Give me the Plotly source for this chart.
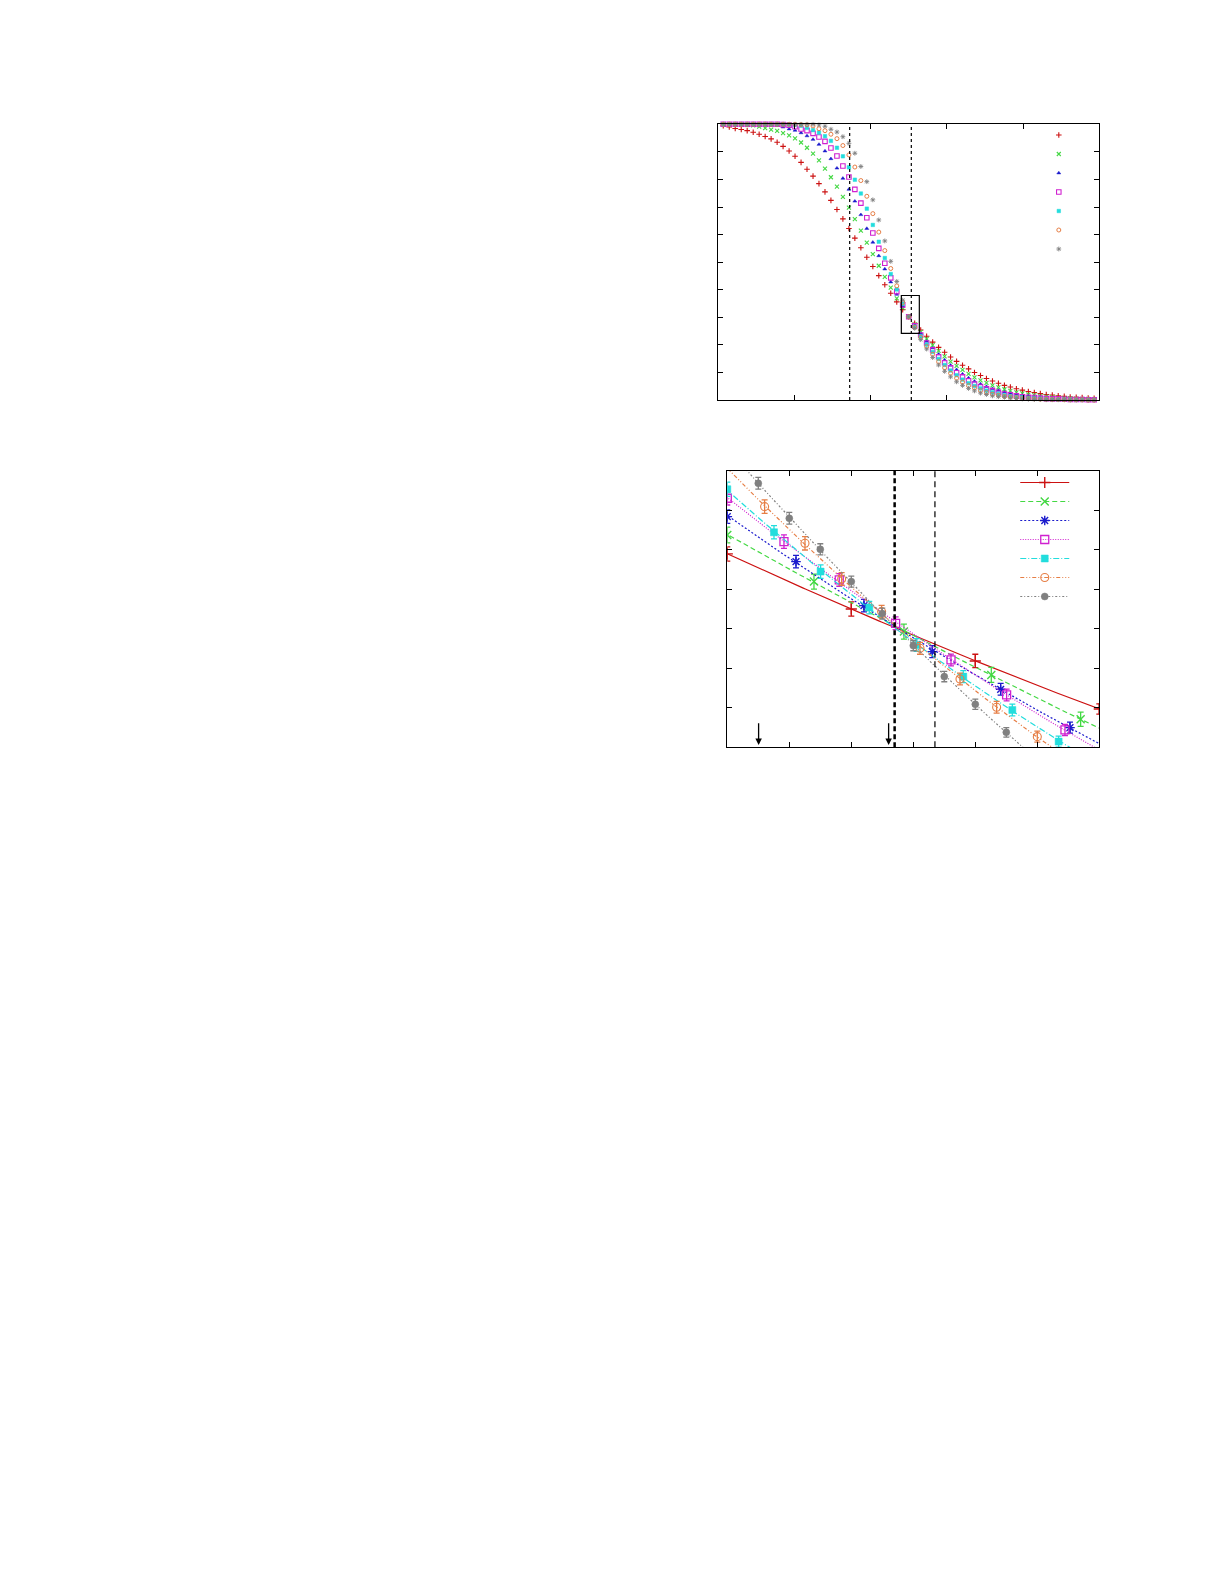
import numpy as np
import plotly.graph_objects as go

# ---------------- top panel data (x grid and seven curves) ----------------
T = [0.065, 0.144, 0.222, 0.301, 0.379, 0.458, 0.536, 0.615, 0.693, 0.772, 0.850,
     0.929, 1.007, 1.086, 1.164, 1.243, 1.321, 1.400, 1.478, 1.557, 1.635,
     1.714, 1.792, 1.871, 1.949, 2.028, 2.106, 2.185, 2.263, 2.342, 2.420,
     2.499, 2.577, 2.656, 2.734, 2.813, 2.891, 2.970, 3.048, 3.127, 3.205,
     3.284, 3.362, 3.441, 3.519, 3.598, 3.676, 3.755, 3.833, 3.912, 3.990,
     4.069, 4.147, 4.226, 4.304, 4.383, 4.461, 4.540, 4.618, 4.697, 4.775,
     4.854, 4.932]

top_red = [0.995, 0.990, 0.985, 0.981, 0.977, 0.971, 0.964, 0.956, 0.947, 0.935, 0.920,
           0.903, 0.884, 0.862, 0.837, 0.812, 0.785, 0.755, 0.724, 0.691, 0.657,
           0.622, 0.587, 0.552, 0.518, 0.484, 0.451, 0.418, 0.387, 0.356, 0.328,
           0.302, 0.278, 0.254, 0.231, 0.210, 0.191, 0.173, 0.156, 0.140, 0.126,
           0.113, 0.100, 0.089, 0.078, 0.069, 0.061, 0.053, 0.047, 0.041, 0.036,
           0.031, 0.027, 0.023, 0.020, 0.018, 0.015, 0.013, 0.011, 0.010, 0.009,
           0.007, 0.006]
top_green = [1.000, 1.000, 1.000, 0.999, 0.998, 0.996, 0.992, 0.986, 0.981, 0.976, 0.968,
             0.960, 0.949, 0.934, 0.915, 0.894, 0.869, 0.839, 0.808, 0.774, 0.737,
             0.698, 0.656, 0.614, 0.571, 0.529, 0.487, 0.447, 0.408, 0.369, 0.334,
             0.302, 0.274, 0.247, 0.222, 0.199, 0.178, 0.158, 0.139, 0.124, 0.109,
             0.095, 0.082, 0.071, 0.062, 0.053, 0.046, 0.039, 0.033, 0.028, 0.024,
             0.020, 0.018, 0.014, 0.012, 0.010, 0.009, 0.007, 0.006, 0.005, 0.004,
             0.004, 0.003]
top_blue = [1.000, 1.000, 1.000, 1.000, 1.000, 1.000, 1.000, 0.999, 0.998, 0.996, 0.990,
            0.983, 0.978, 0.969, 0.958, 0.945, 0.927, 0.903, 0.875, 0.841, 0.804,
            0.764, 0.721, 0.672, 0.622, 0.572, 0.523, 0.475, 0.428, 0.383, 0.340,
            0.302, 0.271, 0.241, 0.213, 0.189, 0.166, 0.145, 0.126, 0.110, 0.094,
            0.080, 0.068, 0.058, 0.049, 0.041, 0.035, 0.029, 0.024, 0.020, 0.017,
            0.014, 0.011, 0.010, 0.008, 0.006, 0.005, 0.004, 0.004, 0.003, 0.003,
            0.002, 0.002]
top_magenta = [1.000, 1.000, 1.000, 1.000, 1.000, 1.000, 1.000, 1.000, 1.000, 1.000, 0.999,
               0.997, 0.991, 0.983, 0.977, 0.967, 0.954, 0.938, 0.914, 0.885, 0.849,
               0.809, 0.764, 0.714, 0.661, 0.606, 0.550, 0.496, 0.443, 0.393, 0.345,
               0.302, 0.269, 0.236, 0.207, 0.182, 0.157, 0.135, 0.117, 0.099, 0.084,
               0.070, 0.058, 0.049, 0.041, 0.034, 0.028, 0.022, 0.019, 0.015, 0.012,
               0.010, 0.009, 0.007, 0.005, 0.004, 0.004, 0.003, 0.002, 0.002, 0.002,
               0.001, 0.001]
top_cyan = [1.000, 1.000, 1.000, 1.000, 1.000, 1.000, 1.000, 1.000, 1.000, 1.000, 1.000,
            0.999, 0.998, 0.995, 0.987, 0.979, 0.970, 0.957, 0.940, 0.915, 0.884,
            0.844, 0.799, 0.749, 0.694, 0.635, 0.574, 0.515, 0.457, 0.401, 0.349,
            0.302, 0.266, 0.231, 0.201, 0.174, 0.149, 0.127, 0.107, 0.090, 0.074,
            0.061, 0.051, 0.042, 0.034, 0.028, 0.022, 0.018, 0.014, 0.011, 0.010,
            0.007, 0.006, 0.005, 0.004, 0.003, 0.002, 0.002, 0.002, 0.001, 0.001,
            0.001, 0.001]
top_orange = [1.000, 1.000, 1.000, 1.000, 1.000, 1.000, 1.000, 1.000, 1.000, 1.000, 1.000,
              1.000, 1.000, 0.999, 0.998, 0.994, 0.984, 0.977, 0.964, 0.948, 0.923,
              0.889, 0.845, 0.796, 0.739, 0.676, 0.609, 0.542, 0.477, 0.414, 0.354,
              0.302, 0.264, 0.227, 0.194, 0.166, 0.139, 0.117, 0.097, 0.079, 0.065,
              0.052, 0.044, 0.034, 0.027, 0.021, 0.017, 0.013, 0.011, 0.009, 0.006,
              0.005, 0.004, 0.003, 0.003, 0.002, 0.002, 0.001, 0.001, 0.001, 0.001,
              0.000, 0.000]
top_gray = [1.000, 1.000, 1.000, 1.000, 1.000, 1.000, 1.000, 1.000, 1.000, 1.000, 1.000,
            1.000, 1.000, 1.000, 1.000, 1.000, 0.998, 0.993, 0.982, 0.972, 0.955,
            0.931, 0.895, 0.847, 0.792, 0.726, 0.653, 0.577, 0.503, 0.430, 0.362,
            0.302, 0.260, 0.219, 0.185, 0.154, 0.127, 0.104, 0.084, 0.066, 0.053,
            0.042, 0.033, 0.025, 0.020, 0.015, 0.012, 0.010, 0.007, 0.005, 0.004,
            0.003, 0.002, 0.002, 0.001, 0.001, 0.001, 0.001, 0.000, 0.000, 0.000,
            0.000, 0.000]

top_vlines = [1.724, 2.533]
zoom_box = [2.402, 2.638, 0.242, 0.379]   # x0, x1, y0, y1
top_xticks = [1, 2, 3, 4]
top_yticks = [0.1, 0.2, 0.3, 0.4, 0.5, 0.6, 0.7, 0.8, 0.9]

# ---------------- bottom panel data ----------------
bx_red = [0.0, 2.0, 4.0, 6.0]
by_red = [4.899, 3.505, 2.188, 0.971]
be_red = [0.18, 0.18, 0.17, 0.13]

bx_green = [0.0, 1.398, 2.849, 4.258, 5.699]
by_green = [5.380, 4.198, 2.931, 1.833, 0.709]
be_green = [0.20, 0.19, 0.19, 0.19, 0.18]

bx_blue = [0.0, 1.108, 2.204, 3.306, 4.409, 5.527]
by_blue = [5.845, 4.704, 3.590, 2.424, 1.470, 0.498]
be_blue = [0.17, 0.16, 0.16, 0.15, 0.15, 0.14]

bx_magenta = [0.0, 0.914, 1.806, 2.715, 3.608, 4.505, 5.446]
by_magenta = [6.309, 5.211, 4.240, 3.142, 2.213, 1.326, 0.439]
be_magenta = [0.17, 0.17, 0.16, 0.16, 0.15, 0.15, 0.14]

bx_cyan = [0.0, 0.753, 1.505, 2.290, 3.054, 3.806, 4.597, 5.344]
by_cyan = [6.537, 5.448, 4.451, 3.539, 2.593, 1.791, 0.946, 0.144]
be_cyan = [0.18, 0.17, 0.17, 0.16, 0.16, 0.15, 0.15, 0.14]

bx_orange = [0.602, 1.253, 1.844, 2.489, 3.108, 3.753, 4.344, 5.0]
by_orange = [6.098, 5.169, 4.265, 3.438, 2.508, 1.731, 1.014, 0.270]
be_orange = [0.17, 0.17, 0.16, 0.16, 0.15, 0.15, 0.15, 0.14]

bx_gray = [0.5, 1.0, 1.5, 2.0, 2.5, 3.0, 3.5, 4.0, 4.5]
by_gray = [6.689, 5.802, 5.017, 4.198, 3.387, 2.576, 1.791, 1.090, 0.380]
be_gray = [0.15, 0.15, 0.14, 0.14, 0.14, 0.13, 0.13, 0.13, 0.12]

bottom_vline_thick = 2.699
bottom_vline_thin = 3.349
arrow_x = [0.505, 2.602]
arrow_tail_y = 0.65
arrow_tip_y = 0.06
bot_xticks = [1, 2, 3, 4, 5]
bot_yticks = [1, 2, 3, 4, 5, 6]

# ---------------- styles ----------------
COLORS = ['#cc1111', '#44d844', '#1a1acc', '#d020d0', '#22dddd', '#e67e45', '#808080']
TOP_SYMBOLS = [('cross-thin-open', 4, 1.1), ('x-thin-open', 4, 1.1), ('triangle-up', 3.5, 0.5),
               ('square-open', 4.5, 1.1), ('square', 3.5, 0.5), ('circle-open', 4, 1.0),
               ('asterisk-open', 4, 0.9)]
BOT_SYMBOLS = [('cross-thin-open', 8, 1.4), ('x-thin-open', 8, 1.4), ('asterisk-open', 8, 1.4),
               ('square-open', 8, 1.3), ('square', 7, 0.5), ('circle-open', 8, 1.1),
               ('circle', 7, 0.5)]
DASHES = ['solid', '5px,3px', '2px,2px', '1px,1.5px', '6px,2px,1px,2px', '4px,2px,1px,2px,1px,2px', '2px,2px,1px,2px']

fig = go.Figure()

top_series = [top_red, top_green, top_blue, top_magenta, top_cyan, top_orange, top_gray]
for i, ys in enumerate(top_series):
    sym, sz, lw = TOP_SYMBOLS[i]
    fig.add_trace(go.Scatter(
        x=T, y=ys, mode='markers', name='', xaxis='x', yaxis='y', legend='legend',
        cliponaxis=False,
        marker=dict(symbol=sym, size=sz, color=COLORS[i], line=dict(color=COLORS[i], width=lw)),
        hoverinfo='skip'))

bot_series = [(bx_red, by_red, be_red), (bx_green, by_green, be_green), (bx_blue, by_blue, be_blue),
              (bx_magenta, by_magenta, be_magenta), (bx_cyan, by_cyan, be_cyan),
              (bx_orange, by_orange, be_orange), (bx_gray, by_gray, be_gray)]
xfit = np.linspace(-0.3, 6.3, 200)
for i, (bx, by, be) in enumerate(bot_series):
    sym, sz, lw = BOT_SYMBOLS[i]
    coef = np.polyfit(bx, by, 2)
    fig.add_trace(go.Scatter(
        x=xfit, y=np.polyval(coef, xfit), mode='lines', xaxis='x2', yaxis='y2',
        line=dict(color=COLORS[i], width=1.2, dash=DASHES[i]), showlegend=False, hoverinfo='skip'))
    fig.add_trace(go.Scatter(
        x=bx, y=by, mode='markers', xaxis='x2', yaxis='y2', showlegend=False,
        error_y=dict(type='data', array=be, color=COLORS[i], thickness=1.3, width=3),
        marker=dict(symbol=sym, size=sz, color=COLORS[i], line=dict(color=COLORS[i], width=lw)),
        hoverinfo='skip'))
    # legend key for this series
    fig.add_trace(go.Scatter(
        x=[None], y=[None], mode='lines+markers', name='', xaxis='x2', yaxis='y2', legend='legend2',
        line=dict(color=COLORS[i], width=1.2, dash=DASHES[i]),
        marker=dict(symbol=sym, size=sz, color=COLORS[i], line=dict(color=COLORS[i], width=lw))))

axis_common = dict(showline=True, linecolor='black', linewidth=1.2, mirror='allticks',
                   ticks='inside', ticklen=5, tickwidth=1.2, tickcolor='black',
                   showgrid=False, zeroline=False, showticklabels=False, fixedrange=True)

fig.update_layout(
    width=1225, height=1585, margin=dict(l=0, r=0, t=0, b=0),
    paper_bgcolor='white', plot_bgcolor='white',
    xaxis=dict(domain=[0.57984, 0.89086], range=[0, 5], tickvals=top_xticks, anchor='y', **axis_common),
    yaxis=dict(domain=[0.75268, 0.92662], range=[0, 1], tickvals=top_yticks, anchor='x', **axis_common),
    xaxis2=dict(domain=[0.58718, 0.89086], range=[0, 6], tickvals=bot_xticks, anchor='y2', **axis_common),
    yaxis2=dict(domain=[0.53356, 0.70789], range=[0, 7], tickvals=bot_yticks, anchor='x2', **axis_common),
    legend=dict(x=0.84147, y=0.92902, xanchor='left', yanchor='top', bgcolor='rgba(0,0,0,0)',
                borderwidth=0, font=dict(size=8, family='DejaVu Sans'), itemwidth=30),
    legend2=dict(x=0.82224, y=0.70978, xanchor='left', yanchor='top', bgcolor='rgba(0,0,0,0)',
                 borderwidth=0, font=dict(size=8, family='DejaVu Sans'), itemwidth=49),
)

for xv in top_vlines:
    fig.add_shape(type='line', xref='x', yref='y domain', x0=xv, x1=xv, y0=0, y1=1,
                  line=dict(color='black', width=1.2, dash='3px,3px'))
fig.add_shape(type='rect', xref='x', yref='y', x0=zoom_box[0], x1=zoom_box[1],
              y0=zoom_box[2], y1=zoom_box[3], line=dict(color='black', width=1.2))

fig.add_shape(type='line', xref='x2', yref='y2 domain', x0=bottom_vline_thick, x1=bottom_vline_thick,
              y0=0, y1=1, line=dict(color='black', width=2.5, dash='5px,3px'))
fig.add_shape(type='line', xref='x2', yref='y2 domain', x0=bottom_vline_thin, x1=bottom_vline_thin,
              y0=0, y1=1, line=dict(color='black', width=1.2, dash='6px,4px'))

for xa in arrow_x:
    fig.add_annotation(x=xa, y=arrow_tip_y, ax=xa, ay=arrow_tail_y, xref='x2', yref='y2',
                       axref='x2', ayref='y2', text='', showarrow=True, arrowhead=2,
                       arrowsize=1, arrowwidth=1.3, arrowcolor='black')

fig.write_html("out.html")
